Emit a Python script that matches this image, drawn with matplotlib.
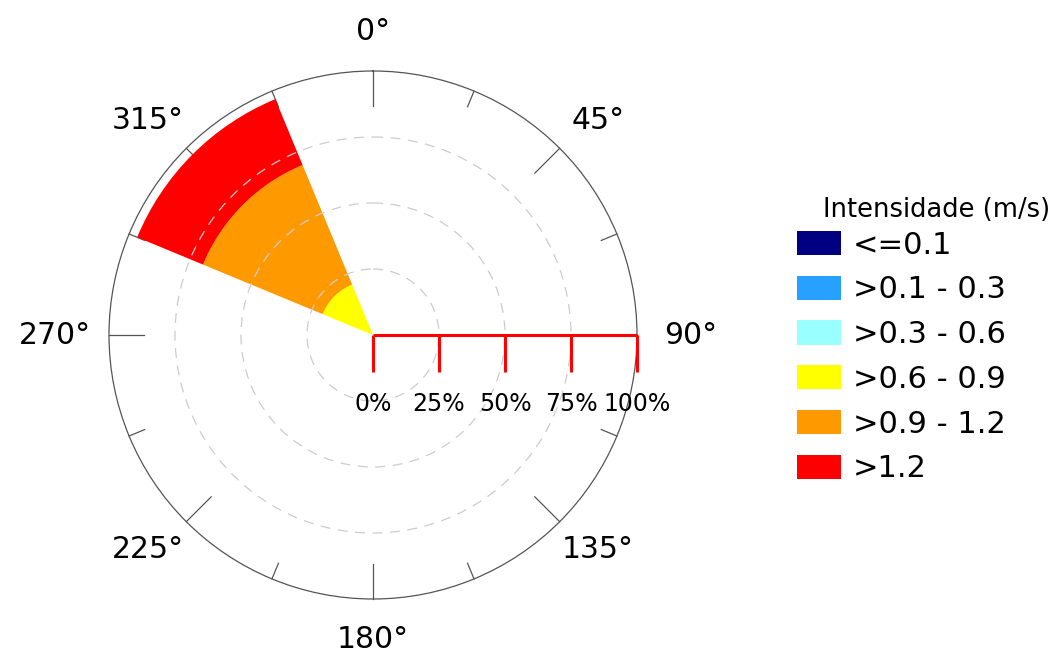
import matplotlib.pyplot as plt
import numpy as np
from matplotlib.patches import Patch

# Wind direction sectors (degrees, clockwise from north)
sector_deg = [0, 45, 90, 135, 180, 225, 270, 315]

# Frequency (%) of each speed class per sector
classes = ['<=0.1', '>0.1 - 0.3', '>0.3 - 0.6', '>0.6 - 0.9', '>0.9 - 1.2', '>1.2']
colors = ['#000080', '#28A0FF', '#99FFFF', '#FFFF00', '#FF9900', '#FF0000']
pct_c1 = [0, 0, 0, 0, 0, 0, 0, 0]
pct_c2 = [0, 0, 0, 0, 0, 0, 0, 0]
pct_c3 = [0, 0, 0, 0, 0, 0, 0, 0.5]
pct_c4 = [0, 0, 0, 0, 0, 0, 0, 20.2]
pct_c5 = [0, 0, 0, 0, 0, 0, 0, 49.0]
pct_c6 = [0, 0, 0, 0, 0, 0, 0, 27.0]
class_pct = [pct_c1, pct_c2, pct_c3, pct_c4, pct_c5, pct_c6]

# Scale bar ticks (%)
scale_ticks = [0, 25, 50, 75, 100]

fig = plt.figure(figsize=(10.53, 6.57), dpi=100)
W, H = 1053, 657
cx, cy, R = 373, 335, 264  # centre and radius in pixels
ax = fig.add_axes([(cx - R) / W, (H - cy - R) / H, 2 * R / W, 2 * R / H], projection='polar')
ax.set_theta_zero_location('N')
ax.set_theta_direction(-1)
ax.set_ylim(0, 100)

theta = np.deg2rad(sector_deg)
bottom = np.zeros(len(sector_deg))
for vals, col in zip(class_pct, colors):
    vals = np.array(vals, dtype=float)
    ax.bar(theta, vals, width=np.deg2rad(45), bottom=bottom, color=col,
           edgecolor='none', align='center', zorder=1)
    bottom += vals

# grid: dashed circles only
ax.set_xticks([])
ax.set_yticks([25, 50, 75])
ax.set_yticklabels([])
ax.yaxis.grid(True, color='#cccccc', linestyle=(0, (8, 6)), linewidth=0.9)
ax.set_axisbelow(False)
ax.spines['polar'].set_color('#555555')
ax.spines['polar'].set_linewidth(0.9)

# tick marks on outer circle
for d in np.arange(0, 360, 22.5):
    L = 13.3 if d % 45 == 0 else 6.4
    ax.plot([np.deg2rad(d)] * 2, [100 - L, 100], color='#555555', lw=0.9,
            zorder=0.5, clip_on=False)

# direction labels
for d in sector_deg:
    t = np.deg2rad(d)
    ax.annotate(f'{d}°', (t, 100), xytext=(54 * np.sin(t), 40 * np.cos(t)),
                textcoords='offset pixels', ha='center', va='center',
                fontsize=21.5, annotation_clip=False)

# red scale bar along 90°
ax.plot([np.pi / 2, np.pi / 2], [0, 100], color='red', lw=2.2, zorder=4,
        solid_capstyle='butt', clip_on=False)
ax.plot([np.pi / 2] * len(scale_ticks), scale_ticks, linestyle='none',
        marker=3, markersize=26.6, markeredgewidth=2.2, color='red', zorder=4,
        clip_on=False)
for v in scale_ticks:
    ax.annotate(f'{v}%', (np.pi / 2, v), xytext=(0, -69), textcoords='offset pixels',
                ha='center', va='center', fontsize=17, annotation_clip=False)

# legend
handles = [Patch(facecolor=c, edgecolor='none') for c in colors]
fig.legend(handles, classes, loc='upper left', bbox_to_anchor=(797 / W, 1 - 230.5 / H),
           frameon=False, fontsize=22, borderpad=0, borderaxespad=0,
           handlelength=1.44, handleheight=0.85, handletextpad=0.38, labelspacing=0.516)
fig.text(823 / W, 1 - 216.7 / H, 'Intensidade (m/s)', fontsize=18.5, va='baseline')

plt.savefig('out.png', dpi=100, facecolor='white')
